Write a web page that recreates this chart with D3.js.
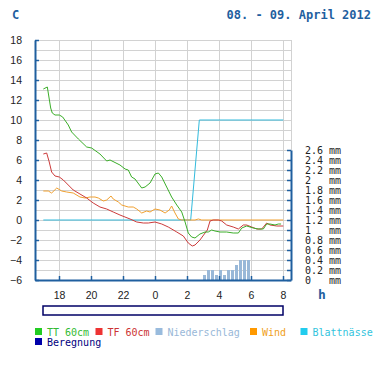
<!DOCTYPE html>
<html>
<head>
<meta charset="utf-8">
<script src="https://cdn.jsdelivr.net/npm/d3@7"></script>
<style>
  body { margin: 0; background: #fff; }
  svg { display: block; }
  .mono { font-family: "DejaVu Sans Mono", "Liberation Mono", monospace; }
</style>
</head>
<body>
<svg id="chart" width="385" height="385"></svg>
<script>
// hours counted from 08.04.2012 00:00 (so 24 = midnight, 32 = 08:00 next day)
const ttHours = [17.02, 17.27, 17.48, 17.58, 17.75, 18.02, 18.23, 18.58, 18.79, 19.21, 19.73, 20.04, 20.56, 20.98, 21.19, 21.81, 22.13, 22.33, 22.54, 22.75, 23.17, 23.38, 23.69, 24.0, 24.21, 24.42, 24.73, 25.04, 25.36, 25.67, 25.88, 26.08, 26.29, 26.5, 26.81, 27.13, 27.33, 27.54, 27.75, 28.06, 28.48, 28.89, 29.21, 29.42, 29.73, 30.14, 30.46, 30.77, 30.98, 31.19, 31.5, 31.71, 31.88];
const ttValues = [13.1, 13.3, 11.2, 10.7, 10.5, 10.5, 10.3, 9.5, 8.8, 8.1, 7.3, 7.2, 6.6, 5.9, 6.0, 5.5, 5.1, 5.0, 4.3, 4.1, 3.2, 3.3, 3.7, 4.6, 4.7, 4.3, 3.3, 2.3, 1.5, 0.8, -0.2, -1.3, -1.7, -1.8, -1.4, -1.2, -1.2, -1.0, -1.1, -1.2, -1.2, -1.3, -1.3, -0.8, -0.6, -0.8, -0.9, -0.9, -0.4, -0.4, -0.5, -0.4, -0.4];

const tfHours = [17.02, 17.23, 17.39, 17.54, 17.75, 18.02, 18.27, 18.58, 18.89, 19.31, 19.73, 20.14, 20.56, 20.98, 21.39, 21.81, 22.44, 22.86, 23.27, 23.58, 24.0, 24.42, 24.83, 25.36, 25.77, 26.08, 26.33, 26.5, 26.81, 27.13, 27.27, 27.44, 27.64, 27.96, 28.17, 28.48, 28.89, 29.21, 29.52, 29.73, 30.04, 30.36, 30.67, 30.98, 31.19, 31.61, 32.02];
const tfValues = [6.6, 6.7, 5.8, 4.8, 4.4, 4.3, 4.0, 3.5, 3.0, 2.6, 2.2, 1.7, 1.3, 1.1, 0.8, 0.5, 0.1, -0.2, -0.3, -0.3, -0.2, -0.4, -0.7, -1.2, -1.6, -2.3, -2.6, -2.5, -2.0, -1.3, -1.0, -0.1, 0.0, 0.0, -0.1, -0.5, -0.7, -0.9, -0.5, -0.5, -0.7, -0.9, -0.9, -0.3, -0.5, -0.6, -0.6];

const windHours = [17.02, 17.33, 17.54, 17.86, 18.17, 18.48, 18.89, 19.31, 19.63, 19.94, 20.25, 20.46, 20.77, 20.98, 21.25, 21.39, 21.71, 21.92, 22.33, 22.64, 22.86, 23.17, 23.48, 23.69, 24.0, 24.31, 24.63, 24.89, 25.04, 25.25, 25.46, 25.67, 26.5, 26.71, 26.92, 32.02];
const windValues = [2.9, 2.9, 2.7, 3.2, 2.9, 2.8, 2.7, 2.3, 2.2, 2.3, 2.3, 2.2, 1.9, 2.0, 2.4, 2.1, 1.8, 1.5, 1.3, 1.3, 1.1, 0.7, 0.9, 0.8, 1.1, 1.0, 0.7, 1.0, 1.4, 0.7, 0.1, 0.0, 0.0, 0.1, 0.0, 0.0];

const leafHours = [17.02, 26.23, 26.77, 32.02];
const leafValues = [0, 0, 10, 10];

// precipitation, 15 minute sums
const rainHours = [27.0, 27.25, 27.5, 27.75, 28.0, 28.25, 28.5, 28.75, 29.0, 29.25, 29.5, 29.75];
const rainValues = [0.1, 0.2, 0.2, 0.1, 0.2, 0.1, 0.2, 0.2, 0.3, 0.4, 0.4, 0.4];

const tempTicks = [-6, -4, -2, 0, 2, 4, 6, 8, 10, 12, 14, 16, 18];
const rainTicks = [0, 0.2, 0.4, 0.6, 0.8, 1, 1.2, 1.4, 1.6, 1.8, 2, 2.2, 2.4, 2.6];
const hourTicks = [18, 20, 22, 24, 26, 28, 30, 32];

const legendItems = [
  { name: "TT 60cm", box: "#22cc22", text: "#33bb33" },
  { name: "TF 60cm", box: "#ee3333", text: "#cc3333" },
  { name: "Niederschlag", box: "#99bbdd", text: "#99b8d8" },
  { name: "Wind", box: "#ff9900", text: "#f0a020" },
  { name: "Blattnässe", box: "#22ccee", text: "#33c4dd" },
  { name: "Beregnung", box: "#0000aa", text: "#000080" }
];

const axisBlue = "#1f5f9f";
const svg = d3.select("#chart");

const x = d3.scaleLinear().domain([16.5, 32.5]).range([35, 291]);
const y = d3.scaleLinear().domain([-6, 18]).range([280, 40]);
const yRain = d3.scaleLinear().domain([0, 2.6]).range([280, 150]);

// Grid
const grid = svg.append("g").attr("stroke", "#d2d2d2").attr("stroke-width", 1).attr("shape-rendering", "crispEdges");
grid.selectAll("line.h")
  .data(d3.range(-6, 19))
  .enter().append("line")
    .attr("x1", x(16.5)).attr("x2", x(32.5))
    .attr("y1", d => y(d)).attr("y2", d => y(d));
grid.selectAll("line.v")
  .data(hourTicks.concat([32.5]))
  .enter().append("line")
    .attr("x1", d => x(d)).attr("x2", d => x(d))
    .attr("y1", y(18)).attr("y2", y(-6));

// Precipitation bars
svg.append("g").selectAll("rect")
  .data(rainHours.map((h, i) => ({ h, v: rainValues[i] })))
  .enter().append("rect")
    .attr("x", d => x(d.h))
    .attr("width", d => x(d.h + 0.25) - x(d.h) - 1)
    .attr("y", d => yRain(d.v))
    .attr("height", d => yRain(0) - yRain(d.v))
    .attr("fill", "#99b8d8");

// Lines
const line = d3.line().x(d => x(d[0])).y(d => y(d[1]));
const series = [
  { hours: leafHours, values: leafValues, color: "#33bbdd" },
  { hours: windHours, values: windValues, color: "#f0a030" },
  { hours: tfHours, values: tfValues, color: "#cc3b3b" },
  { hours: ttHours, values: ttValues, color: "#3cae2a" }
];
series.forEach(s => {
  svg.append("path")
    .datum(s.hours.map((h, i) => [h, s.values[i]]))
    .attr("fill", "none")
    .attr("stroke", s.color)
    .attr("stroke-width", 1)
    .attr("d", line);
});

// Axes
const leftAxis = svg.append("g")
  .attr("transform", `translate(${x(16.5)},0)`)
  .call(d3.axisLeft(y).tickValues(tempTicks).tickSize(-4).tickSizeOuter(0).tickPadding(13));

const rightAxis = svg.append("g")
  .attr("transform", `translate(${x(32.5)},0)`)
  .call(d3.axisRight(yRain).tickValues(rainTicks).tickSize(-4).tickSizeOuter(0).tickPadding(14)
    .tickFormat(d => (Number.isInteger(d) ? String(d) : d.toFixed(1)).padEnd(4, " ") + "mm"));

const bottomAxis = svg.append("g")
  .attr("transform", `translate(0,${y(-6)})`)
  .call(d3.axisBottom(x).tickValues(hourTicks).tickSize(-4).tickSizeOuter(0).tickPadding(12)
    .tickFormat(d => d % 24));

[leftAxis, rightAxis, bottomAxis].forEach(a => {
  a.select(".domain").attr("stroke", axisBlue).attr("stroke-width", 2);
  a.selectAll(".tick line").attr("stroke", axisBlue).attr("stroke-width", 1.5);
  a.selectAll("text").attr("fill", "#222");
});
leftAxis.selectAll("text").style("font", "10.5px 'Liberation Sans', Arial, sans-serif");
bottomAxis.selectAll("text").style("font", "10.5px 'Liberation Sans', Arial, sans-serif");
rightAxis.selectAll("text")
  .attr("class", "mono")
  .style("font-size", "10px")
  .style("white-space", "pre");

// Titles
svg.append("text").attr("class", "mono")
  .attr("x", 12).attr("y", 19)
  .attr("fill", axisBlue).attr("font-weight", "bold").attr("font-size", 12)
  .text("C");
svg.append("text").attr("class", "mono")
  .attr("x", 371).attr("y", 19).attr("text-anchor", "end")
  .attr("fill", axisBlue).attr("font-weight", "bold").attr("font-size", 12)
  .text("08. - 09. April 2012");
svg.append("text").attr("class", "mono")
  .attr("x", 322).attr("y", 299).attr("text-anchor", "middle")
  .attr("fill", axisBlue).attr("font-weight", "bold").attr("font-size", 13)
  .text("h");

// Beregnung bar (empty)
svg.append("rect")
  .attr("x", x(17)).attr("y", 306)
  .attr("width", x(32) - x(17)).attr("height", 9)
  .attr("fill", "none").attr("stroke", "#000066").attr("stroke-width", 1.5);

// Legend
const legendPos = [[35, 328], [95.5, 328], [155.5, 328], [250, 328], [300.5, 328], [35, 338]];
const legend = svg.append("g");
legendItems.forEach((item, i) => {
  const [lx, ly] = legendPos[i];
  legend.append("rect").attr("x", lx).attr("y", ly).attr("width", 7).attr("height", 7).attr("fill", item.box);
  legend.append("text").attr("class", "mono")
    .attr("x", lx + 12).attr("y", ly + 7.5)
    .attr("font-size", 10).attr("fill", item.text)
    .text(item.name);
});
</script>
</body>
</html>
